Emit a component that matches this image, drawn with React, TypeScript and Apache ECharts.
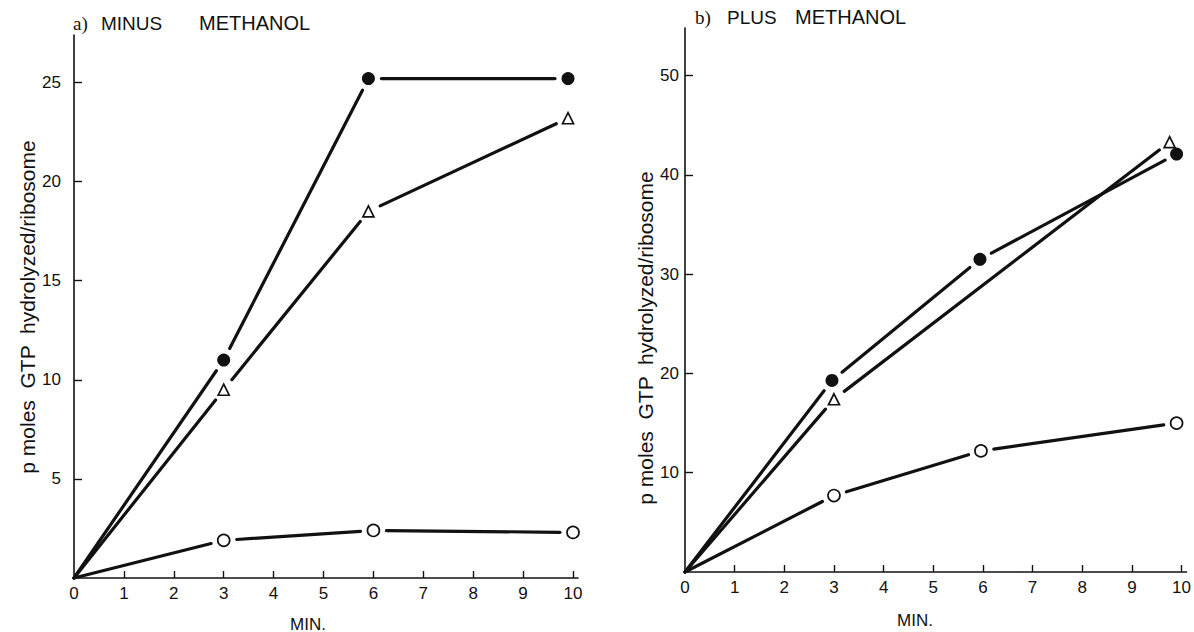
import React, { useEffect, useRef } from "react";
import * as echarts from "echarts";

// Data: [minutes, pmoles GTP hydrolyzed / ribosome]
const leftFilled = [[0, 0], [3, 11], [5.9, 25.2], [9.9, 25.2]];
const leftTriangle = [[0, 0], [3, 9.5], [5.9, 18.5], [9.9, 23.2]];
const leftOpen = [[0, 0], [3, 1.9], [6, 2.4], [10, 2.3]];

const rightFilled = [[0, 0], [2.96, 19.3], [5.94, 31.5], [9.9, 42.1]];
const rightTriangle = [[0, 0], [3, 17.4], [9.76, 43.3]];
const rightOpen = [[0, 0], [3, 7.7], [5.96, 12.2], [9.9, 15.0]];

const xTickLabels = [0, 1, 2, 3, 4, 5, 6, 7, 8, 9, 10];
const leftYTicks = [5, 10, 15, 20, 25];
const rightYTicks = [10, 20, 30, 40, 50];

const SANS = "Liberation Sans, Arial, sans-serif";
const SERIF = "Liberation Serif, DejaVu Serif, serif";
const INK = "#111";
const GAP = 13;

export default function App() {
  const ref = useRef<HTMLDivElement>(null);

  useEffect(() => {
    if (!ref.current) return;
    const chart = echarts.init(ref.current, undefined, { renderer: "svg" });

    const mkX = (gridIndex: number) => ({
      type: "value",
      gridIndex,
      min: 0,
      max: 10.1,
      interval: 1,
      splitLine: { show: false },
      axisLine: { show: true, onZero: false, lineStyle: { color: INK, width: 1.6 } },
      axisTick: { show: true, inside: true, length: 7, customValues: xTickLabels.slice(1), lineStyle: { color: INK, width: 1.4 } },
      axisLabel: { customValues: xTickLabels, margin: 7, color: INK, fontSize: 17, fontFamily: SANS },
    });
    const mkY = (gridIndex: number, max: number, interval: number, ticks: number[], margin: number) => ({
      type: "value",
      gridIndex,
      min: 0,
      max,
      interval,
      splitLine: { show: false },
      axisLine: { show: true, onZero: false, lineStyle: { color: INK, width: 1.6 } },
      axisTick: { show: true, inside: true, length: 8, customValues: ticks, lineStyle: { color: INK, width: 1.4 } },
      axisLabel: { customValues: ticks, margin, color: INK, fontSize: 17, fontFamily: SANS },
    });

    // Segments between consecutive points, drawn shortened so they stop short of each marker
    const segSeries = (data: number[][], idx: number) => {
      const segs: number[][] = [];
      for (let i = 1; i < data.length; i++) {
        segs.push([data[i - 1][0], data[i - 1][1], data[i][0], data[i][1], i - 1]);
      }
      return {
        type: "custom",
        xAxisIndex: idx,
        yAxisIndex: idx,
        data: segs,
        encode: { x: [0, 2], y: [1, 3] },
        silent: true,
        z: 2,
        renderItem: (_params: any, api: any) => {
          const a = api.coord([api.value(0), api.value(1)]);
          const b = api.coord([api.value(2), api.value(3)]);
          const startIdx = api.value(4);
          const dx = b[0] - a[0];
          const dy = b[1] - a[1];
          const len = Math.sqrt(dx * dx + dy * dy) || 1;
          const ux = dx / len;
          const uy = dy / len;
          const g0 = startIdx === 0 ? 0 : GAP;
          return {
            type: "line",
            shape: {
              x1: a[0] + ux * g0,
              y1: a[1] + uy * g0,
              x2: b[0] - ux * GAP,
              y2: b[1] - uy * GAP,
            },
            style: { stroke: INK, lineWidth: 3.2, lineCap: "round" },
          };
        },
      };
    };
    const marks = (data: number[][], idx: number, kind: "filled" | "open" | "tri") => ({
      type: "scatter",
      xAxisIndex: idx,
      yAxisIndex: idx,
      data: data.slice(1),
      symbol: kind === "tri" ? "triangle" : "circle",
      symbolSize: kind === "filled" ? 13 : kind === "open" ? 12 : 11,
      itemStyle:
        kind === "filled"
          ? { color: INK, opacity: 1 }
          : { color: "#fff", borderColor: INK, borderWidth: 1.7, opacity: 1 },
      z: 4,
      silent: true,
    });

    const groups: [number[][], number, "filled" | "open" | "tri"][] = [
      [leftFilled, 0, "filled"],
      [leftTriangle, 0, "tri"],
      [leftOpen, 0, "open"],
      [rightFilled, 1, "filled"],
      [rightTriangle, 1, "tri"],
      [rightOpen, 1, "open"],
    ];
    const series: any[] = [];
    groups.forEach(([d, i]) => series.push(segSeries(d, i)));
    groups.forEach(([d, i, k]) => series.push(marks(d, i, k)));

    const txt = (text: string, x: number, y: number, size: number, font: string, extra: any = {}) => ({
      type: "text",
      x,
      y,
      style: { text, fontSize: size, fontFamily: font, fill: INK, verticalAlign: "middle", ...extra },
    });
    const yName = (x: number, y: number) => ({
      type: "text",
      x,
      y,
      rotation: Math.PI / 2,
      style: {
        text: "p moles  GTP  hydrolyzed/ribosome",
        fontSize: 21,
        fontFamily: SANS,
        fill: INK,
        align: "center",
        verticalAlign: "middle",
      },
    });

    const option: any = {
      animation: false,
      backgroundColor: "#fff",
      grid: [
        { left: 74, top: 35, width: 504, height: 543, containLabel: false },
        { left: 685, top: 28, width: 505, height: 544, containLabel: false },
      ],
      xAxis: [mkX(0), mkX(1)],
      yAxis: [mkY(0, 27.4, 5, leftYTicks, 13), mkY(1, 54.8, 10, rightYTicks, 6)],
      series,
      graphic: [
        txt("a)", 73, 23, 19, SERIF),
        txt("MINUS", 101, 23, 19, SANS),
        txt("METHANOL", 199, 23, 20, SANS),
        txt("b)", 695, 17, 19, SERIF),
        txt("PLUS", 727, 17, 19, SANS),
        txt("METHANOL", 795, 17, 20, SANS),
        txt("MIN.", 308, 624, 17, SANS, { align: "center" }),
        txt("MIN.", 915, 620, 17, SANS, { align: "center" }),
        yName(27, 307),
        yName(645, 338),
      ],
    };

    chart.setOption(option);
    return () => chart.dispose();
  }, []);

  return (
    <div
      ref={ref}
      style={{ position: "fixed", left: 0, top: 0, width: 1194, height: 632, background: "#fff" }}
    />
  );
}
